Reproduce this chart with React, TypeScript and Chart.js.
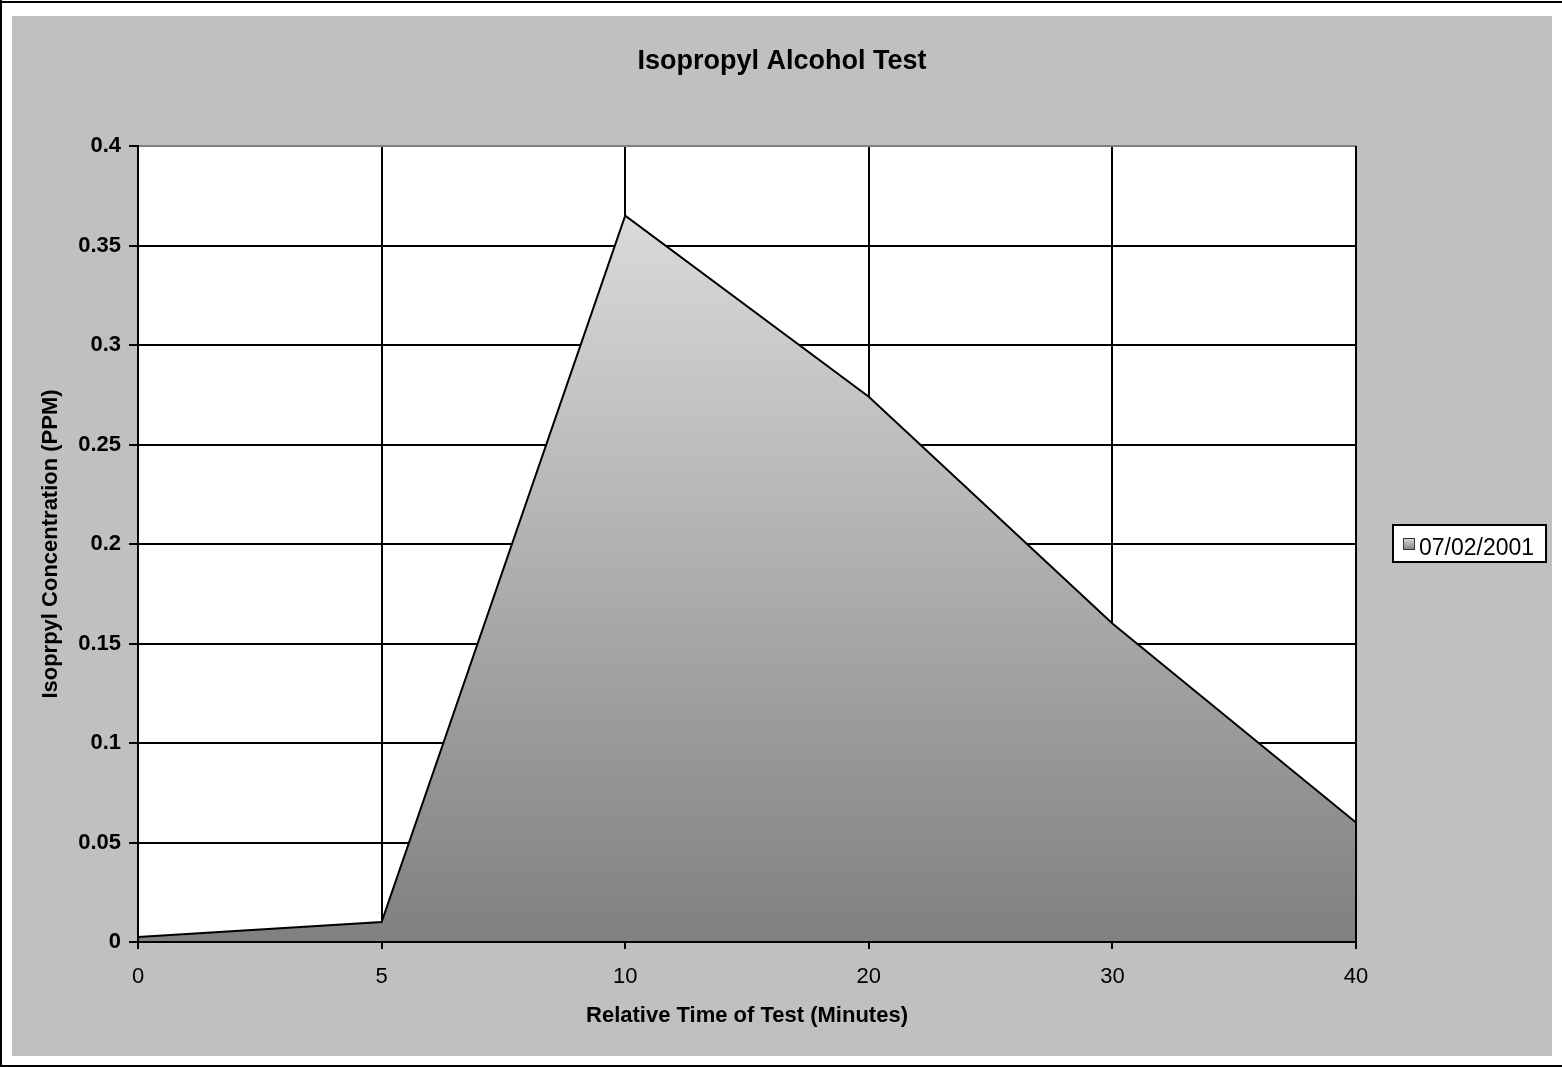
import { useEffect, useRef } from 'react';
import { Chart, registerables } from 'chart.js';

Chart.register(...registerables);

const chartTitle = 'Isopropyl Alcohol Test';
const xAxisTitle = 'Relative Time of Test (Minutes)';
const yAxisTitle = 'Isoprpyl Concentration (PPM)';
const seriesLabel = '07/02/2001';
const timeCategories = ['0', '5', '10', '20', '30', '40'];
const concentration = [0.0025, 0.01, 0.365, 0.274, 0.16, 0.06];
const yMin = 0;
const yMax = 0.4;
const yStep = 0.05;

const FONT = "'Liberation Sans', Arial, Helvetica, sans-serif";
const W = 1562;
const H = 1067;

function areaGradient(chart: any, top: number, bottom: number) {
  const g = chart.ctx.createLinearGradient(0, top, 0, bottom);
  g.addColorStop(0, '#dadada');
  g.addColorStop(1, '#808080');
  return g;
}

const framePlugin = {
  id: 'frame',
  beforeDraw(chart: any) {
    const { ctx, width, height, chartArea } = chart;
    ctx.save();
    ctx.fillStyle = '#ffffff';
    ctx.fillRect(0, 0, width, height);
    ctx.fillStyle = '#000000';
    ctx.fillRect(0, 0, 2, height);
    ctx.fillRect(0, 1, width, 2);
    ctx.fillRect(0, height - 2, width, 2);
    ctx.fillStyle = '#c0c0c0';
    ctx.fillRect(12, 16, 1540, 1040);
    ctx.fillStyle = '#ffffff';
    ctx.fillRect(chartArea.left, chartArea.top, chartArea.right - chartArea.left, chartArea.bottom - chartArea.top);
    ctx.fillStyle = '#000000';
    ctx.font = `bold 27px ${FONT}`;
    ctx.textAlign = 'center';
    ctx.textBaseline = 'alphabetic';
    ctx.fillText(chartTitle, 782, 69);
    ctx.restore();
  },
  afterDatasetsDraw(chart: any) {
    const { ctx, chartArea } = chart;
    ctx.save();
    ctx.strokeStyle = '#000000';
    ctx.lineWidth = 2;
    ctx.beginPath();
    ctx.moveTo(chartArea.left, chartArea.top);
    ctx.lineTo(chartArea.left, chartArea.bottom);
    ctx.moveTo(chartArea.right, chartArea.top);
    ctx.lineTo(chartArea.right, chartArea.bottom);
    ctx.moveTo(chartArea.left, chartArea.bottom);
    ctx.lineTo(chartArea.right, chartArea.bottom);
    ctx.stroke();

    // legend
    const label = chart.data.datasets[0].label;
    const bx = 1393, by = 525, bw = 153, bh = 37;
    ctx.fillStyle = '#ffffff';
    ctx.fillRect(bx, by, bw, bh);
    ctx.lineWidth = 2;
    ctx.strokeStyle = '#000000';
    ctx.strokeRect(bx, by, bw, bh);
    const sx = 1403, sy = 538, ss = 12;
    ctx.fillStyle = areaGradient(chart, sy, sy + ss);
    ctx.fillRect(sx, sy, ss, ss);
    ctx.lineWidth = 1;
    ctx.strokeStyle = '#303030';
    ctx.strokeRect(sx + 0.5, sy + 0.5, ss - 1, ss - 1);
    ctx.fillStyle = '#000000';
    ctx.font = `23px ${FONT}`;
    ctx.textAlign = 'left';
    ctx.textBaseline = 'alphabetic';
    ctx.fillText(label, 1419, 555);
    ctx.restore();
  },
};

export default function App() {
  const canvasRef = useRef<HTMLCanvasElement | null>(null);

  useEffect(() => {
    const canvas = canvasRef.current;
    if (!canvas) return;
    const chart = new Chart(canvas, {
      type: 'line',
      data: {
        labels: timeCategories,
        datasets: [
          {
            label: seriesLabel,
            data: concentration,
            fill: 'origin',
            borderColor: '#000000',
            borderWidth: 2,
            pointRadius: 0,
            tension: 0,
            backgroundColor: (c: any) => {
              const ch = c.chart;
              if (!ch.chartArea) return '#a0a0a0';
              const top = ch.scales.y.getPixelForValue(Math.max(...concentration));
              return areaGradient(ch, top, ch.chartArea.bottom);
            },
          },
        ],
      },
      options: {
        responsive: false,
        animation: false,
        devicePixelRatio: 1,
        layout: { padding: { left: 12, top: 146, right: 206, bottom: 0 } },
        plugins: {
          legend: { display: false },
          title: { display: false },
          tooltip: { enabled: false },
        },
        scales: {
          x: {
            type: 'category',
            offset: false,
            afterFit: (s: any) => {
              s.height = 125;
            },
            grid: {
              color: '#000000',
              lineWidth: 2,
              tickLength: 7,
              tickColor: '#000000',
              offset: false,
            },
            border: { display: true, color: '#000000', width: 2 },
            ticks: {
              color: '#000000',
              font: { family: FONT, size: 22 },
              padding: 15,
              maxRotation: 0,
              autoSkip: false,
            },
            title: {
              display: true,
              text: xAxisTitle,
              color: '#000000',
              font: { family: FONT, size: 22, weight: 'bold' },
              padding: { top: 0, bottom: 38 },
            },
          },
          y: {
            min: yMin,
            max: yMax,
            afterFit: (s: any) => {
              s.width = 126;
            },
            grid: {
              color: (c: any) => (c.tick && c.tick.value >= yMax - 1e-9 ? '#808080' : '#000000'),
              lineWidth: 2,
              tickLength: 9,
              tickColor: '#000000',
            },
            border: { display: true, color: '#000000', width: 2 },
            ticks: {
              stepSize: yStep,
              color: '#000000',
              font: { family: FONT, size: 22, weight: 'bold' },
              padding: 8,
              callback: (v: any) => String(Number(Number(v).toFixed(2))),
            },
            title: {
              display: true,
              text: yAxisTitle,
              color: '#000000',
              font: { family: FONT, size: 22, weight: 'bold' },
              padding: { top: 26, bottom: 0 },
            },
          },
        },
      },
      plugins: [framePlugin],
    } as any);
    return () => chart.destroy();
  }, []);

  return (
    <div style={{ position: 'absolute', left: 0, top: 0, width: W, height: H }}>
      <canvas ref={canvasRef} width={W} height={H} style={{ display: 'block', width: W, height: H }} />
    </div>
  );
}
